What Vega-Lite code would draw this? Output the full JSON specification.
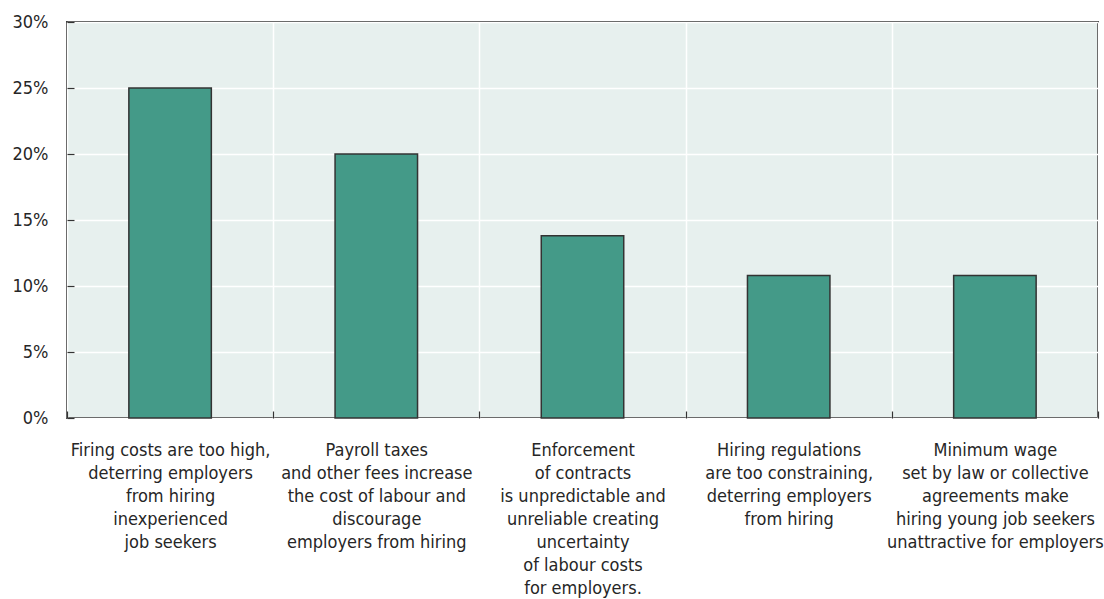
{
  "$schema": "https://vega.github.io/schema/vega-lite/v6.json",
  "autosize": "none",
  "width": 1031,
  "height": 396,
  "padding": {"left": 67, "top": 22, "right": 6, "bottom": 181},
  "background": "white",
  "config": {
    "view": {"fill": "#E7F0EE", "stroke": "#3a3a3a", "strokeWidth": 2},
    "axis": {"labelFont": "DejaVu Sans Condensed", "labelColor": "#262626", "labelFontSize": 18, "domain": false}
  },
  "data": {
    "values": [
      {"reason": "Firing costs are too high,|deterring employers|from hiring|inexperienced|job seekers", "share": 25},
      {"reason": "Payroll taxes|and other fees increase|the cost of labour and|discourage|employers from hiring", "share": 20},
      {"reason": "Enforcement|of contracts|is unpredictable and|unreliable creating|uncertainty|of labour costs|for employers.", "share": 13.8},
      {"reason": "Hiring regulations|are too constraining,|deterring employers|from hiring", "share": 10.8},
      {"reason": "Minimum wage|set by law or collective|agreements make|hiring young job seekers|unattractive for employers", "share": 10.8}
    ]
  },
  "mark": {"type": "bar", "width": {"band": 0.4}, "fill": "#449A88", "stroke": "#333333", "strokeWidth": 1.5},
  "encoding": {
    "x": {
      "field": "reason", "type": "nominal", "sort": null,
      "scale": {"paddingInner": 0, "paddingOuter": 0},
      "axis": {
        "title": null, "labelAngle": 0, "labelLimit": 0,
        "labelExpr": "split(datum.label, '|')",
        "labelLineHeight": 23, "labelPadding": 30, "labelBaseline": "top",
        "tickBand": "extent", "ticks": true, "tickSize": -7, "tickColor": "#333333", "tickWidth": 1.2,
        "grid": true, "gridColor": "white", "gridWidth": 1.5
      }
    },
    "y": {
      "field": "share", "type": "quantitative",
      "scale": {"domain": [0, 30], "nice": false},
      "axis": {
        "title": null, "values": [0, 5, 10, 15, 20, 25, 30],
        "labelExpr": "datum.value + '%'",
        "labelPadding": 26,
        "ticks": true, "tickSize": -7, "tickColor": "#333333", "tickWidth": 1.2,
        "grid": true, "gridColor": "white", "gridWidth": 1.5
      }
    }
  }
}
